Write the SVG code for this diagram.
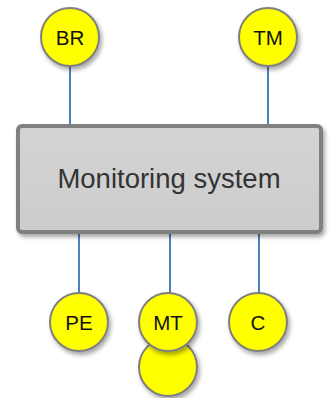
<svg xmlns="http://www.w3.org/2000/svg" width="333" height="398" viewBox="0 0 333 398">
<defs>
<filter id="sh" x="-30%" y="-30%" width="160%" height="160%">
<feDropShadow dx="2" dy="3" stdDeviation="2" flood-color="#000" flood-opacity="0.35"/>
</filter>
<linearGradient id="boxg" x1="0" y1="0" x2="0" y2="1">
<stop offset="0" stop-color="#d4d4d4"/>
<stop offset="1" stop-color="#cccccc"/>
</linearGradient>
</defs>
<style>
.c{fill:#ffff00;stroke:#7f7f7f;stroke-width:2;filter:url(#sh)}
.t{font-family:"Liberation Sans",Arial,sans-serif;font-size:20.5px;fill:#111;text-anchor:middle}
.l{stroke:#4f81bd;stroke-width:2;fill:none}
</style>
<rect width="333" height="398" fill="#fff"/>
<g id="connectors">
<line class="l" x1="70" y1="66" x2="70" y2="127"/>
<line class="l" x1="268" y1="66" x2="268" y2="127"/>
<line class="l" x1="79" y1="231" x2="79" y2="293"/>
<line class="l" x1="170" y1="231" x2="170" y2="293"/>
<line class="l" x1="259" y1="231" x2="259" y2="293"/>
</g>
<g id="monitoring">
<rect x="18" y="126" width="303" height="106" rx="4" fill="url(#boxg)" stroke="#808080" stroke-width="4" filter="url(#sh)"/>
<text x="169" y="188" font-family="'Liberation Sans',Arial,sans-serif" font-size="27.5" fill="#333" text-anchor="middle">Monitoring system</text>
</g>
<g id="BR"><circle class="c" cx="70" cy="37" r="29"/><text class="t" x="70" y="44.5">BR</text></g>
<g id="TM"><circle class="c" cx="268" cy="37" r="29"/><text class="t" x="268" y="44.5">TM</text></g>
<g id="PE"><circle class="c" cx="79" cy="322" r="29"/><text class="t" x="79" y="329.5">PE</text></g>
<g id="MT2"><circle class="c" cx="168" cy="367" r="29"/></g>
<g id="MT"><circle class="c" cx="168" cy="322" r="29"/><text class="t" x="168" y="329.5">MT</text></g>
<g id="C"><circle class="c" cx="258" cy="322" r="29"/><text class="t" x="258" y="329.5">C</text></g>
</svg>
